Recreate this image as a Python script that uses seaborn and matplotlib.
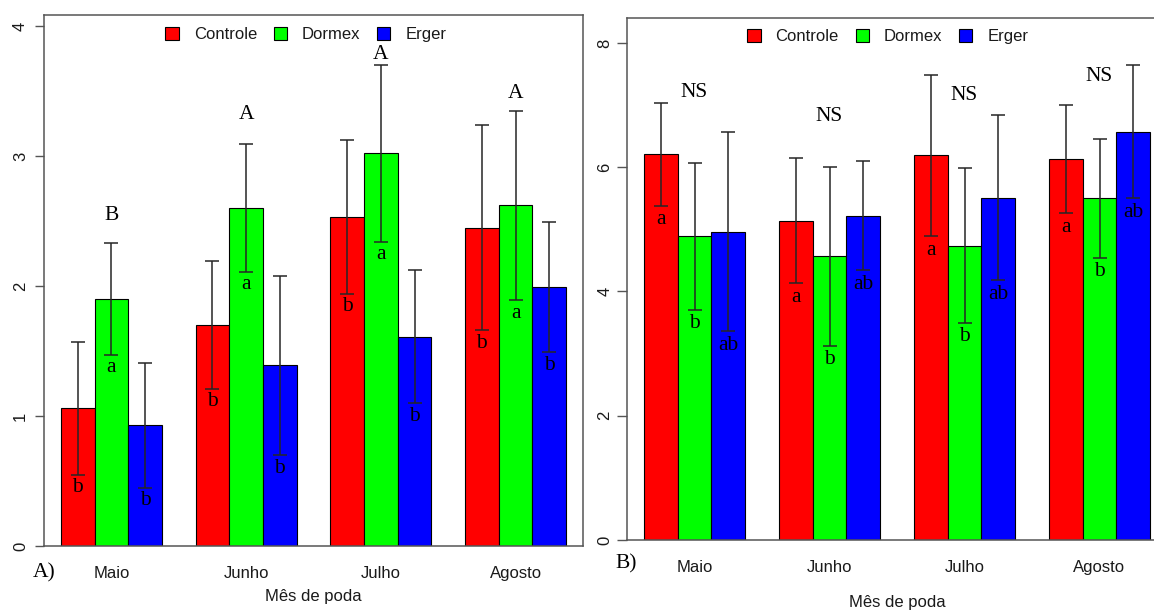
import matplotlib
matplotlib.use("Agg")
import matplotlib.pyplot as plt
from matplotlib.patches import Patch
import seaborn as sns
import pandas as pd

# ---------------- data ----------------
meses = ["Maio", "Junho", "Julho", "Agosto"]
tratamentos = ["Controle", "Dormex", "Erger"]
cores = ["#FF0000", "#00FF00", "#0000FF"]

# Panel A
a_controle = [1.06, 1.70, 2.53, 2.45]
a_dormex = [1.90, 2.60, 3.02, 2.62]
a_erger = [0.93, 1.39, 1.61, 1.99]
a_err_controle = [0.51, 0.49, 0.59, 0.79]
a_err_dormex = [0.43, 0.49, 0.68, 0.73]
a_err_erger = [0.48, 0.69, 0.51, 0.50]
a_let_controle = ["b", "b", "b", "b"]
a_let_dormex = ["a", "a", "a", "a"]
a_let_erger = ["b", "b", "b", "b"]
a_grupo = ["B", "A", "A", "A"]
a_grupo_y = [2.54, 3.32, 3.78, 3.48]

# Panel B
b_controle = [6.21, 5.14, 6.19, 6.13]
b_dormex = [4.89, 4.57, 4.74, 5.50]
b_erger = [4.96, 5.22, 5.51, 6.57]
b_err_controle = [0.83, 1.01, 1.30, 0.87]
b_err_dormex = [1.18, 1.44, 1.24, 0.96]
b_err_erger = [1.60, 0.88, 1.33, 1.07]
b_let_controle = ["a", "a", "a", "a"]
b_let_dormex = ["b", "b", "b", "b"]
b_let_erger = ["ab", "ab", "ab", "ab"]
b_grupo = ["NS", "NS", "NS", "NS"]
b_grupo_y = [7.21, 6.81, 7.16, 7.46]

# ---------------- style ----------------
sns.set_theme(style="white")
plt.rcParams["font.family"] = ["Liberation Sans", "DejaVu Sans"]
SERIF = ["Liberation Serif", "DejaVu Serif"]
SERIF_SIZE = 15.5
TXT = "#1a1a1a"
SPINE = "#555555"

W, H = 1154, 611
fig = plt.figure(figsize=(W / 100, H / 100), dpi=100)
fig.patch.set_facecolor("white")


def make_df(vals_list):
    rows = []
    for t, vals in zip(tratamentos, vals_list):
        for m, v in zip(meses, vals):
            rows.append({"Mês": m, "Tratamento": t, "valor": v})
    return pd.DataFrame(rows)


def panel(rect, vals, errs, letters, grupo, grupo_y, ylim, yticks,
          leg_anchor, ytick_len, ytick_pad, let_off):
    ax = fig.add_axes(rect)
    df = make_df(vals)
    sns.barplot(data=df, x="Mês", y="valor", hue="Tratamento",
                order=meses, hue_order=tratamentos, palette=cores,
                saturation=1, width=0.75, gap=0, errorbar=None,
                edgecolor="black", linewidth=0.8, legend=False, ax=ax)
    ax.set_xlim(-0.5, 3.5)
    ax.set_ylim(*ylim)
    bar_conts = list(ax.containers)[:3]
    green_x = []
    for k, cont in enumerate(bar_conts):
        xs = [b.get_x() + b.get_width() / 2 for b in cont]
        hs = [b.get_height() for b in cont]
        if k == 1:
            green_x = xs
        ax.errorbar(xs, hs, yerr=errs[k], fmt="none", ecolor="#262626",
                    elinewidth=1.1, capsize=4.7, capthick=1.1, zorder=5)
        for x, h, e, l in zip(xs, hs, errs[k], letters[k]):
            ax.annotate(l, (x, h - e), xytext=(0, -let_off),
                        textcoords="offset pixels", ha="center",
                        va="center", family=SERIF, fontsize=SERIF_SIZE,
                        color="black", zorder=6)
    for x, y, g in zip(green_x, grupo_y, grupo):
        ax.text(x, y, g, ha="center", va="center", family=SERIF,
                fontsize=SERIF_SIZE, color="black", zorder=6)

    ax.set_yticks(yticks)
    ax.set_yticklabels([str(v) for v in yticks])
    ax.tick_params(axis="y", left=True, length=ytick_len, width=1.0,
                   color=SPINE, pad=ytick_pad, labelsize=12,
                   labelcolor=TXT, labelrotation=90)
    for lbl in ax.get_yticklabels():
        lbl.set_va("center")
    ax.tick_params(axis="x", bottom=False, length=0, pad=20,
                   labelsize=12, labelcolor=TXT)
    for lbl in ax.get_xticklabels():
        lbl.set_va("center")
    ax.set_ylabel("")
    ax.set_xlabel("Mês de poda", fontsize=12, color=TXT)
    for s in ax.spines.values():
        s.set_color(SPINE)
        s.set_linewidth(1.1)
        s.set_visible(True)

    handles = [Patch(facecolor=c, edgecolor="black", linewidth=0.8)
               for c in cores]
    ax.legend(handles, tratamentos, loc="upper center",
              bbox_to_anchor=leg_anchor, ncol=3, frameon=False,
              fontsize=12, handlelength=0.8, handleheight=0.8,
              handletextpad=0.9, columnspacing=1.0, borderpad=0,
              borderaxespad=0, labelcolor=TXT)
    return ax


def rect_px(x0, x1, y_top, y_bot):
    return [x0 / W, 1 - y_bot / H, (x1 - x0) / W, (y_bot - y_top) / H]


ax1 = panel(rect_px(44, 583, 15, 546),
            [a_controle, a_dormex, a_erger],
            [a_err_controle, a_err_dormex, a_err_erger],
            [a_let_controle, a_let_dormex, a_let_erger],
            a_grupo, a_grupo_y, (0, 4.085), [0, 1, 2, 3, 4],
            (0.486, 1 - 12 / 531), 6.5, 5, 13)
ax1.xaxis.set_label_coords(0.5, -(597 - 546) / 531)
ax1.xaxis.label.set_va("center")

ax2 = panel(rect_px(627, 1167, 17.5, 540),
            [b_controle, b_dormex, b_erger],
            [b_err_controle, b_err_dormex, b_err_erger],
            [b_let_controle, b_let_dormex, b_let_erger],
            b_grupo, b_grupo_y, (0, 8.41), [0, 2, 4, 6, 8],
            (0.483, 1 - 11.5 / 522.5), 7, 3.5, 14)
ax2.xaxis.set_label_coords(0.5, -(603 - 540) / 522.5)
ax2.xaxis.label.set_va("center")

fig.text(33 / W, 1 - 573 / H, "A)", family=SERIF, fontsize=SERIF_SIZE,
         ha="left", va="center", color="black")
fig.text(615 / W, 1 - 564 / H, "B)", family=SERIF, fontsize=SERIF_SIZE,
         ha="left", va="center", color="black")

fig.savefig("out.png", dpi=100, facecolor="white")
